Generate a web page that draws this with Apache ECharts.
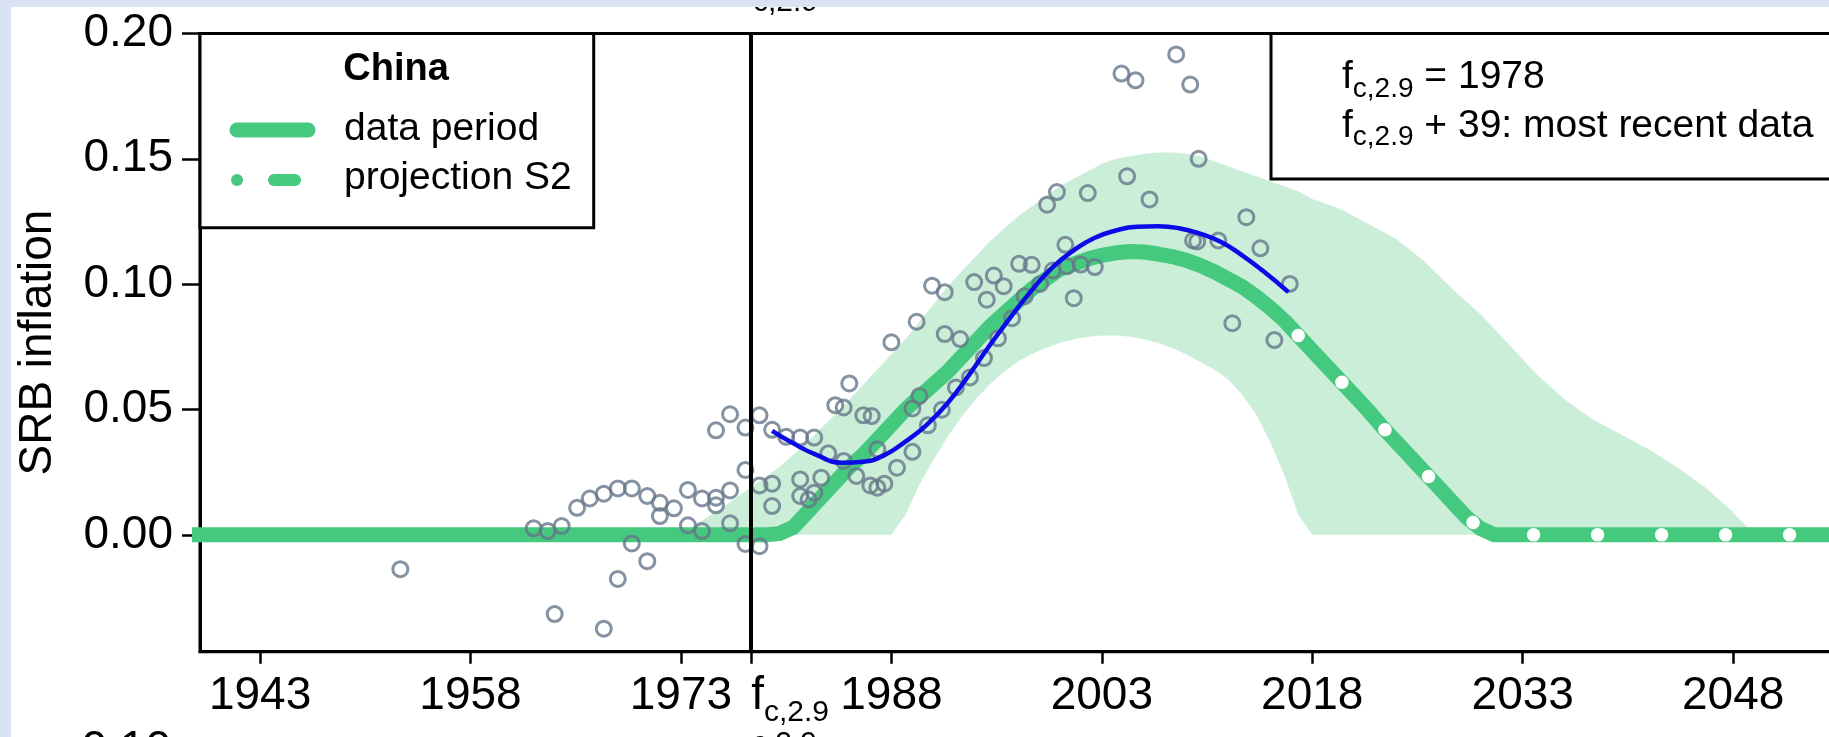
<!DOCTYPE html>
<html>
<head>
<meta charset="utf-8">
<script src="https://cdn.jsdelivr.net/npm/echarts@6/dist/echarts.min.js"></script>
<style>
html,body{margin:0;padding:0;background:#dae3f3;}
#chart{width:1829px;height:737px;}
</style>
</head>
<body>
<div id="chart"></div>
<script>
// ---------------- data ----------------
const xTickValues = [1943, 1958, 1973, 1978, 1988, 2003, 2018, 2033, 2048];
const xTickLabels = ['1943', '1958', '1973', 'f_c,2.9', '1988', '2003', '2018', '2033', '2048'];
const yTickValues = [0, 0.05, 0.10, 0.15, 0.20];
const yTickLabels = ['0.00', '0.05', '0.10', '0.15', '0.20'];
const fcYear = 1978;

const dataYears = [1938, 1950, 1960, 1970, 1979, 1980, 1981, 1982, 1983, 1984, 1985, 1986, 1987, 1988, 1989, 1990, 1991, 1992, 1993, 1994, 1995, 1996, 1997, 1998, 1999, 2000, 2001, 2002, 2003, 2004, 2005, 2006, 2007, 2008, 2009, 2010, 2011, 2012, 2013, 2014, 2015, 2016, 2017];
const dataValues = [0, 0, 0, 0, 0, 0.0005, 0.003, 0.009, 0.015, 0.021, 0.027, 0.032, 0.038, 0.044, 0.050, 0.055, 0.060, 0.065, 0.071, 0.077, 0.083, 0.088, 0.093, 0.098, 0.102, 0.106, 0.108, 0.110, 0.1115, 0.1125, 0.113, 0.1128, 0.112, 0.111, 0.1095, 0.1075, 0.105, 0.102, 0.099, 0.095, 0.0905, 0.0855, 0.0795];

const projYears = [2017, 2018, 2019, 2020, 2021, 2022, 2023, 2024, 2025, 2026, 2027, 2028, 2029, 2030, 2031, 2040, 2050, 2062];
const projValues = [0.0795, 0.0735, 0.0675, 0.0615, 0.0555, 0.0495, 0.043, 0.037, 0.031, 0.025, 0.019, 0.013, 0.007, 0.0025, 0, 0, 0, 0];

const bandYears = [1973, 1974, 1976, 1978, 1980, 1982, 1984, 1986, 1988, 1989, 1990, 1991, 1992, 1993, 1994, 1995, 1996, 1997, 1998, 1999, 2000, 2001, 2002, 2003, 2004, 2005, 2006, 2007, 2008, 2009, 2010, 2011, 2012, 2013, 2014, 2015, 2016, 2017, 2018, 2020, 2022, 2024, 2026, 2028, 2030, 2032, 2034, 2036, 2038, 2040, 2042, 2044, 2046, 2048, 2049, 2050];
const bandLower = [0, 0, 0, 0, 0, 0, 0, 0, 0, 0.008, 0.020, 0.030, 0.039, 0.047, 0.054, 0.060, 0.065, 0.069, 0.072, 0.0745, 0.0765, 0.078, 0.079, 0.0795, 0.0795, 0.079, 0.078, 0.0765, 0.0745, 0.072, 0.069, 0.066, 0.062, 0.056, 0.048, 0.037, 0.024, 0.008, 0, 0, 0, 0, 0, 0, 0, 0, 0, 0, 0, 0, 0, 0, 0, 0, 0, 0];
const bandUpper = [0, 0.004, 0.011, 0.019, 0.027, 0.037, 0.048, 0.060, 0.072, 0.078, 0.085, 0.092, 0.099, 0.105, 0.111, 0.117, 0.122, 0.127, 0.131, 0.135, 0.139, 0.142, 0.145, 0.148, 0.150, 0.151, 0.152, 0.1525, 0.1525, 0.152, 0.151, 0.149, 0.147, 0.145, 0.143, 0.141, 0.139, 0.137, 0.134, 0.130, 0.124, 0.118, 0.109, 0.098, 0.088, 0.076, 0.064, 0.054, 0.046, 0.040, 0.034, 0.027, 0.019, 0.009, 0.003, 0];

const fitYears = [1979.5, 1981, 1982.5, 1984.5, 1986, 1987.5, 1989, 1990.5, 1992, 1993.5, 1995, 1996.5, 1998, 1999.5, 2001, 2002.5, 2004, 2005.5, 2007, 2008.5, 2010, 2011.5, 2013, 2014.5, 2016.3];
const fitValues = [0.0415, 0.0365, 0.0323, 0.0288, 0.0292, 0.0318, 0.0372, 0.0438, 0.0525, 0.0635, 0.0755, 0.0868, 0.0975, 0.1068, 0.1135, 0.1185, 0.1214, 0.1229, 0.1231, 0.1223, 0.1201, 0.1168, 0.1115, 0.1052, 0.0968];

const obsYears = [1953.0, 1962.5, 1963.5, 1964.5, 1964.0, 1965.6, 1966.5, 1967.5, 1967.5, 1968.5, 1968.5, 1969.5, 1969.5, 1970.6, 1970.6, 1971.5, 1971.5, 1972.5, 1973.5, 1973.5, 1974.5, 1974.5, 1975.5, 1975.5, 1975.5, 1976.5, 1976.5, 1976.5, 1977.6, 1977.6, 1977.6, 1978.6, 1978.6, 1978.6, 1979.5, 1979.5, 1979.5, 1980.5, 1981.5, 1981.5, 1981.5, 1982.1, 1982.5, 1982.5, 1983.0, 1983.5, 1984.0, 1984.6, 1984.6, 1985.0, 1985.5, 1986.0, 1986.6, 1986.5, 1987.0, 1987.0, 1987.5, 1988.0, 1988.4, 1989.5, 1989.5, 1989.8, 1990.0, 1990.6, 1990.9, 1991.6, 1991.8, 1991.8, 1992.6, 1992.9, 1993.6, 1993.9, 1994.6, 1994.8, 1995.3, 1995.6, 1996.0, 1996.6, 1997.1, 1997.5, 1998.0, 1998.6, 1999.1, 1999.5, 1999.8, 2000.4, 2000.5, 2001.0, 2001.5, 2002.0, 2002.5, 2004.4, 2004.8, 2005.4, 2006.4, 2008.3, 2009.3, 2009.5, 2009.8, 2009.9, 2011.3, 2012.3, 2013.3, 2014.3, 2015.3, 2016.4];
const obsValues = [-0.0137, 0.0026, 0.0015, 0.0035, -0.0316, 0.0108, 0.0145, 0.0164, -0.0374, 0.0185, -0.0176, 0.0185, -0.0034, 0.0155, -0.0105, 0.0128, 0.0075, 0.0106, 0.0179, 0.0038, 0.0145, 0.0015, 0.0148, 0.0118, 0.0417, 0.0177, 0.0046, 0.0481, 0.0259, -0.0036, 0.0428, -0.0045, 0.0477, 0.0197, 0.0419, 0.0204, 0.0115, 0.0391, 0.0388, 0.0221, 0.0155, 0.0141, 0.0388, 0.0168, 0.0228, 0.0325, 0.0517, 0.0508, 0.0295, 0.0604, 0.0235, 0.0477, 0.0474, 0.0197, 0.0188, 0.0341, 0.0204, 0.0768, 0.0268, 0.0331, 0.0504, 0.0850, 0.0554, 0.0437, 0.0994, 0.0499, 0.0968, 0.0801, 0.0588, 0.0781, 0.0628, 0.1008, 0.0705, 0.0938, 0.1034, 0.0784, 0.0992, 0.0864, 0.1081, 0.0952, 0.1077, 0.1001, 0.1317, 0.1054, 0.1367, 0.1157, 0.1071, 0.0944, 0.1078, 0.1363, 0.1068, 0.1840, 0.1430, 0.1813, 0.1338, 0.1916, 0.1796, 0.1174, 0.1170, 0.1500, 0.1174, 0.0844, 0.1267, 0.1143, 0.0777, 0.1001];

// ---------------- styling ----------------
const GREEN = '#45c97e';
const BAND = '#cbeed9';
const GRAY = '#66778a';
const BLUE = '#0b0be8';
const BGBLUE = '#dae3f3';
const FONT = '"Liberation Sans", Arial, Helvetica, sans-serif';

const zip = (a, b) => a.map((v, i) => [v, b[i]]);

const chart = echarts.init(document.getElementById('chart'), null, {renderer: 'canvas'});

const option = {
  backgroundColor: BGBLUE,
  animation: false,
  grid: {
    left: 200, top: 33.4, right: -100.6, bottom: 85.3,
    outerBoundsMode: 'none', containLabel: false,
    show: true, borderColor: '#000', borderWidth: 3, backgroundColor: 'transparent'
  },
  xAxis: {
    type: 'value', min: 1938.72, max: 2062,
    splitLine: {show: false},
    axisLine: {show: true, onZero: false, lineStyle: {color: '#000', width: 3}},
    axisTick: {show: true, length: 12, lineStyle: {color: '#000', width: 2.5}, customValues: xTickValues},
    axisLabel: {
      customValues: xTickValues,
      margin: 22, color: '#000', fontFamily: FONT, fontSize: 46, lineHeight: 46,
      formatter: function (v) {
        const i = xTickValues.indexOf(v);
        const t = i >= 0 ? xTickLabels[i] : '';
        if (t.indexOf('f_') === 0) {
          return '{sp| }{f|f}{s|' + t.slice(2) + '}';
        }
        return t;
      },
      rich: {
        sp: {width: 78, fontSize: 46, lineHeight: 46},
        f: {fontSize: 46, lineHeight: 46, fontFamily: FONT, color: '#000'},
        s: {fontSize: 30, lineHeight: 46, fontFamily: FONT, color: '#000', padding: [33, 0, 0, 0]}
      }
    }
  },
  yAxis: {
    type: 'value', min: -0.0466, max: 0.2,
    splitLine: {show: false},
    name: 'SRB inflation', nameLocation: 'middle', nameGap: 139,
    nameTextStyle: {color: '#000', fontFamily: FONT, fontSize: 46},
    axisLine: {show: true, onZero: false, lineStyle: {color: '#000', width: 3}},
    axisTick: {show: true, length: 18, lineStyle: {color: '#000', width: 2.5}, customValues: yTickValues},
    axisLabel: {
      customValues: yTickValues,
      margin: 27, color: '#000', fontFamily: FONT, fontSize: 46,
      formatter: function (v) {
        let best = 0;
        yTickValues.forEach((t, i) => { if (Math.abs(t - v) < Math.abs(yTickValues[best] - v)) best = i; });
        return yTickLabels[best];
      }
    }
  },
  series: [
    {
      name: 'band', type: 'custom', z: 1, silent: true,
      data: [[bandYears[0], bandLower[0]]],
      renderItem: function (params, api) {
        const pts = [];
        for (let i = 0; i < bandYears.length; i++) pts.push(api.coord([bandYears[i], bandUpper[i]]));
        for (let i = bandYears.length - 1; i >= 0; i--) pts.push(api.coord([bandYears[i], bandLower[i]]));
        return {type: 'polygon', shape: {points: pts, smooth: 0}, style: {fill: BAND}};
      }
    },
    {
      name: 'data period', type: 'line', z: 2, silent: true, showSymbol: false,
      data: zip(dataYears, dataValues),
      lineStyle: {color: GREEN, width: 15, cap: 'round', join: 'round'}
    },
    {
      name: 'projection S2', type: 'line', z: 2, silent: true, showSymbol: false,
      data: zip(projYears, projValues),
      lineStyle: {color: GREEN, width: 15, cap: 'round', join: 'round'}
    },
    {
      name: 'projection dots', type: 'line', z: 3, silent: true, showSymbol: false,
      data: zip(projYears, projValues),
      lineStyle: {color: '#ffffff', width: 13.5, cap: 'round', join: 'round', type: [0.01, 64]}
    },
    {
      name: 'observations', type: 'scatter', z: 4, silent: true,
      symbol: 'circle', symbolSize: 15,
      data: zip(obsYears, obsValues),
      itemStyle: {color: 'rgba(0,0,0,0)', borderColor: GRAY, borderWidth: 3},
      markLine: {
        silent: true, symbol: 'none', label: {show: false}, z: 6,
        lineStyle: {color: '#000', width: 4, type: 'solid', opacity: 1},
        emphasis: {disabled: true},
        data: [{xAxis: fcYear}]
      }
    },
    {
      name: 'fit', type: 'line', z: 5, silent: true, showSymbol: false, smooth: true,
      data: zip(fitYears, fitValues),
      lineStyle: {color: BLUE, width: 4.5}
    }
  ],
  graphic: [
    {type: 'rect', z: -10, silent: true, shape: {x: 11, y: 7, width: 1818, height: 730}, style: {fill: '#ffffff'}},
    // cut text fragments of neighbouring panels
    {type: 'text', z: 50, silent: true, style: {x: 753, y: 2.5, text: 'c,2.9', fontSize: 30, fontFamily: FONT, fill: '#000', verticalAlign: 'middle', align: 'left'}},
    {type: 'rect', z: 51, silent: true, shape: {x: 0, y: 0, width: 1829, height: 7}, style: {fill: BGBLUE}},
    {type: 'rect', z: 51, silent: true, shape: {x: 0, y: 0, width: 11, height: 737}, style: {fill: BGBLUE}},
    {type: 'text', z: 50, silent: true, style: {x: 171, y: 750, text: '0.10', fontSize: 46, fontFamily: FONT, fill: '#000', verticalAlign: 'middle', align: 'right'}},
    {type: 'text', z: 50, silent: true, style: {x: 752, y: 744, text: 'c,2.9', fontSize: 30, fontFamily: FONT, fill: '#000', verticalAlign: 'middle', align: 'left'}},
    // legend box
    {type: 'rect', z: 20, silent: true, shape: {x: 200, y: 33.4, width: 393.7, height: 194.3}, style: {fill: '#fff', stroke: '#000', lineWidth: 3}},
    {type: 'text', z: 21, silent: true, style: {x: 396, y: 70, text: 'China', fontSize: 38, fontWeight: 'bold', fontFamily: FONT, fill: '#000', align: 'center', verticalAlign: 'middle'}},
    {type: 'line', z: 21, silent: true, shape: {x1: 237, y1: 130, x2: 308, y2: 130}, style: {stroke: GREEN, lineWidth: 15, lineCap: 'round'}},
    {type: 'text', z: 21, silent: true, style: {x: 344, y: 129, text: 'data period', fontSize: 39, fontFamily: FONT, fill: '#000', align: 'left', verticalAlign: 'middle'}},
    {type: 'circle', z: 21, silent: true, shape: {cx: 237, cy: 180, r: 6}, style: {fill: GREEN}},
    {type: 'line', z: 21, silent: true, shape: {x1: 274, y1: 180, x2: 295, y2: 180}, style: {stroke: GREEN, lineWidth: 12, lineCap: 'round'}},
    {type: 'text', z: 21, silent: true, style: {x: 344, y: 178, text: 'projection S2', fontSize: 39, fontFamily: FONT, fill: '#000', align: 'left', verticalAlign: 'middle'}},
    // info box
    {type: 'rect', z: 20, silent: true, shape: {x: 1271, y: 33.4, width: 700, height: 145.6}, style: {fill: '#fff', stroke: '#000', lineWidth: 3}},
    {type: 'text', z: 21, silent: true, style: {
      x: 1342, y: 77.5, text: '{f|f}{s|c,2.9}{n| = 1978}', align: 'left', verticalAlign: 'middle',
      rich: {
        f: {fontSize: 39, lineHeight: 42, fontFamily: FONT, fill: '#000'},
        n: {fontSize: 39, lineHeight: 42, fontFamily: FONT, fill: '#000'},
        s: {fontSize: 28, lineHeight: 42, fontFamily: FONT, fill: '#000', padding: [23, 0, 0, 0]}
      }
    }},
    {type: 'text', z: 21, silent: true, style: {
      x: 1342, y: 126, text: '{f|f}{s|c,2.9}{n| + 39: most recent data}', align: 'left', verticalAlign: 'middle',
      rich: {
        f: {fontSize: 39, lineHeight: 42, fontFamily: FONT, fill: '#000'},
        n: {fontSize: 39, lineHeight: 42, fontFamily: FONT, fill: '#000'},
        s: {fontSize: 28, lineHeight: 42, fontFamily: FONT, fill: '#000', padding: [23, 0, 0, 0]}
      }
    }}
  ]
};

chart.setOption(option);
</script>
</body>
</html>
